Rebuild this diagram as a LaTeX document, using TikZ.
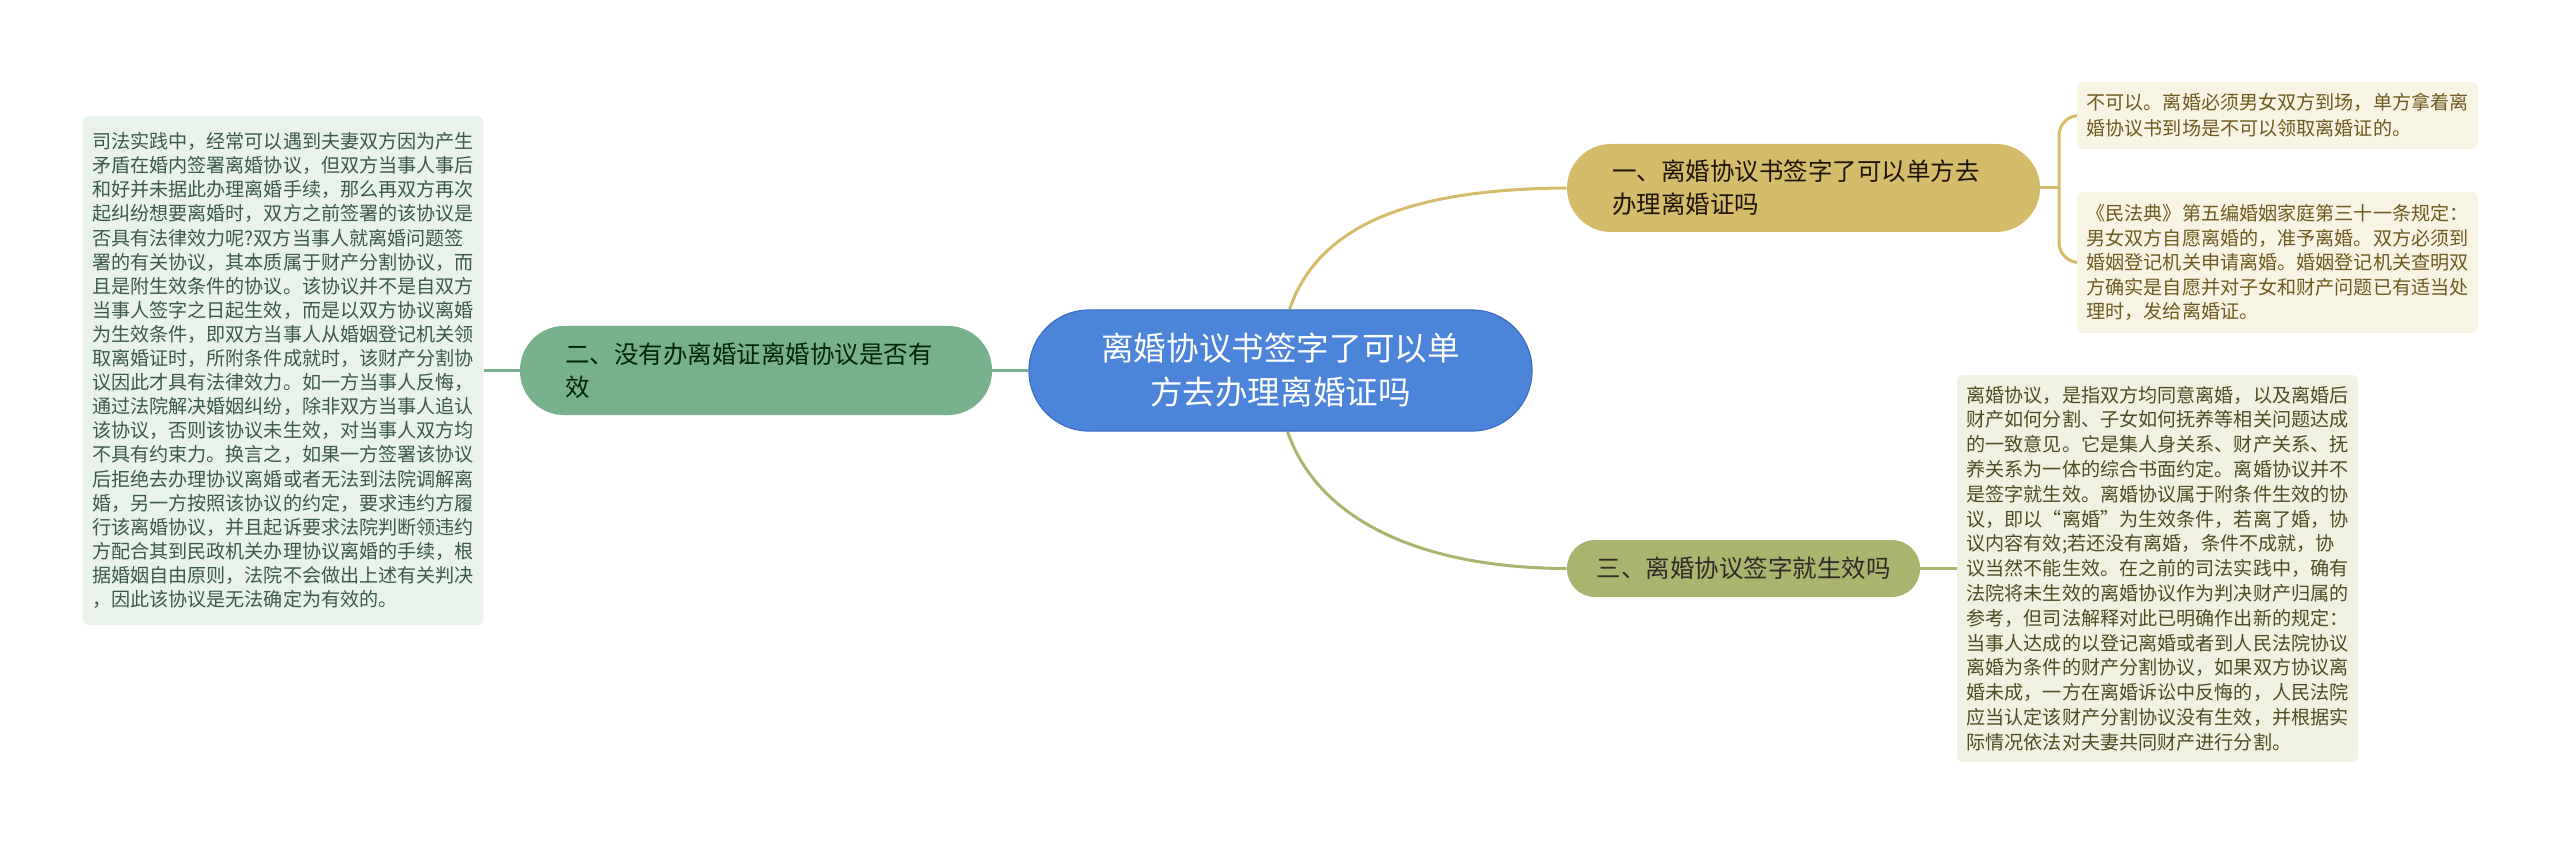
\documentclass[tikz,border=0pt]{standalone}
\usepackage{fontspec}
\setmainfont{Noto Sans CJK SC}
\usetikzlibrary{backgrounds}
\definecolor{cfill}{HTML}{4B84D9}
\definecolor{cline}{HTML}{3C70C2}
\definecolor{cgreen}{HTML}{77B18C}
\definecolor{cgold}{HTML}{D4BC6B}
\definecolor{colive}{HTML}{ABB46F}
\definecolor{lbfill}{HTML}{E9F3EC}
\definecolor{rtfill}{HTML}{F8F4E3}
\definecolor{rbfill}{HTML}{F1F1E2}
\definecolor{lbtext}{HTML}{3B5A45}
\definecolor{rttext}{HTML}{6E5A1E}
\definecolor{rbtext}{HTML}{4D4D22}
\tikzset{
  tbox/.style={rectangle, rounded corners=3pt, inner sep=0pt, align=left,
    text width=191pt, minimum width=200.5pt},
  topic/.style={rectangle, inner sep=0pt, font=\fontsize{12.25pt}{16.5pt}\selectfont},
  conn/.style={line width=1.5pt},
}
\begin{document}
\begin{tikzpicture}[x=0.5pt,y=-0.5pt]
\useasboundingbox (0,0) rectangle (2560,845);
% central topic
\node[rectangle, rounded corners=30pt, fill=cfill, draw=cline, line width=0.6pt,
  minimum width=251.5pt, minimum height=60.5pt, inner sep=0pt, align=center,
  text=white, font=\fontsize{16.3pt}{22pt}\selectfont] (ctr) at (1280.5,370.5)
  {离婚协议书签字了可以单\\方去办理离婚证吗};
% main topics
\node[topic, rounded corners=22pt, fill=cgreen, minimum width=236pt, minimum height=44.5pt,
  text width=191pt, align=left, text=black!85!green] (n2) at (756,370.5)
  {二、没有办离婚证离婚协议是否有\\效};
\node[topic, rounded corners=22pt, fill=cgold, minimum width=236.5pt, minimum height=44pt,
  text width=191.5pt, align=left, text=black!85!brown] (n1) at (1803.5,188)
  {一、离婚协议书签字了可以单方去\\办理离婚证吗};
\node[topic, rounded corners=14pt, fill=colive, minimum width=176.5pt, minimum height=28.5pt,
  text=black!88!olive] (n3) at (1743.5,568.5)
  {三、离婚协议签字就生效吗};
% text boxes
\node[tbox, fill=lbfill, text=lbtext, minimum height=254.5pt,
  font=\fontsize{9.55pt}{12.05pt}\selectfont] (lb) at (283,370.5)
  {司法实践中，经常可以遇到夫妻双方因为产生\\
矛盾在婚内签署离婚协议，但双方当事人事后\\
和好并未据此办理离婚手续，那么再双方再次\\
起纠纷想要离婚时，双方之前签署的该协议是\\
否具有法律效力呢?双方当事人就离婚问题签\\
署的有关协议，其本质属于财产分割协议，而\\
且是附生效条件的协议。该协议并不是自双方\\
当事人签字之日起生效，而是以双方协议离婚\\
为生效条件，即双方当事人从婚姻登记机关领\\
取离婚证时，所附条件成就时，该财产分割协\\
议因此才具有法律效力。如一方当事人反悔，\\
通过法院解决婚姻纠纷，除非双方当事人追认\\
该协议，否则该协议未生效，对当事人双方均\\
不具有约束力。换言之，如果一方签署该协议\\
后拒绝去办理协议离婚或者无法到法院调解离\\
婚，另一方按照该协议的约定，要求违约方履\\
行该离婚协议，并且起诉要求法院判断领违约\\
方配合其到民政机关办理协议离婚的手续，根\\
据婚姻自由原则，法院不会做出上述有关判决\\
，因此该协议是无法确定为有效的。};
\node[tbox, fill=rtfill, text=rttext, minimum height=33.5pt,
  font=\fontsize{9.55pt}{13pt}\selectfont] (rt1) at (2277.5,115.5)
  {不可以。离婚必须男女双方到场，单方拿着离\\
婚协议书到场是不可以领取离婚证的。};
\node[tbox, fill=rtfill, text=rttext, minimum height=70.5pt,
  font=\fontsize{9.55pt}{12.25pt}\selectfont] (rt2) at (2277.5,262.5)
  {《民法典》第五编婚姻家庭第三十一条规定：\\
男女双方自愿离婚的，准予离婚。双方必须到\\
婚姻登记机关申请离婚。婚姻登记机关查明双\\
方确实是自愿并对子女和财产问题已有适当处\\
理时，发给离婚证。};
\node[tbox, fill=rbfill, text=rbtext, minimum height=193.5pt,
  font=\fontsize{9.55pt}{12.4pt}\selectfont] (rb) at (2157.5,568.5)
  {离婚协议，是指双方均同意离婚，以及离婚后\\
财产如何分割、子女如何抚养等相关问题达成\\
的一致意见。它是集人身关系、财产关系、抚\\
养关系为一体的综合书面约定。离婚协议并不\\
是签字就生效。离婚协议属于附条件生效的协\\
议，即以“离婚”为生效条件，若离了婚，协\\
议内容有效;若还没有离婚，条件不成就，协\\
议当然不能生效。在之前的司法实践中，确有\\
法院将未生效的离婚协议作为判决财产归属的\\
参考，但司法解释对此已明确作出新的规定：\\
当事人达成的以登记离婚或者到人民法院协议\\
离婚为条件的财产分割协议，如果双方协议离\\
婚未成，一方在离婚诉讼中反悔的，人民法院\\
应当认定该财产分割协议没有生效，并根据实\\
际情况依法对夫妻共同财产进行分割。};
\coordinate (br) at (2059,188);
\begin{scope}[on background layer]
  \draw[conn, cgreen] (ctr.west) -- (n2.east);
  \draw[conn, cgreen] (n2.west) -- (lb.east);
  \draw[conn, cgold] ([xshift=4.5pt]ctr.north) .. controls (1320,220) and (1420,189) .. (n1.west);
  \draw[conn, colive] ([xshift=3.5pt]ctr.south) .. controls (1318,520) and (1420,568) .. (n3.west);
  \draw[conn, colive] (n3.east) -- (rb.west);
  \draw[conn, cgold] (n1.east) -- (br);
  \draw[conn, cgold, rounded corners=10pt] (br) |- (rt1.west);
  \draw[conn, cgold, rounded corners=10pt] (br) |- (rt2.west);
\end{scope}
\end{tikzpicture}
\end{document}
